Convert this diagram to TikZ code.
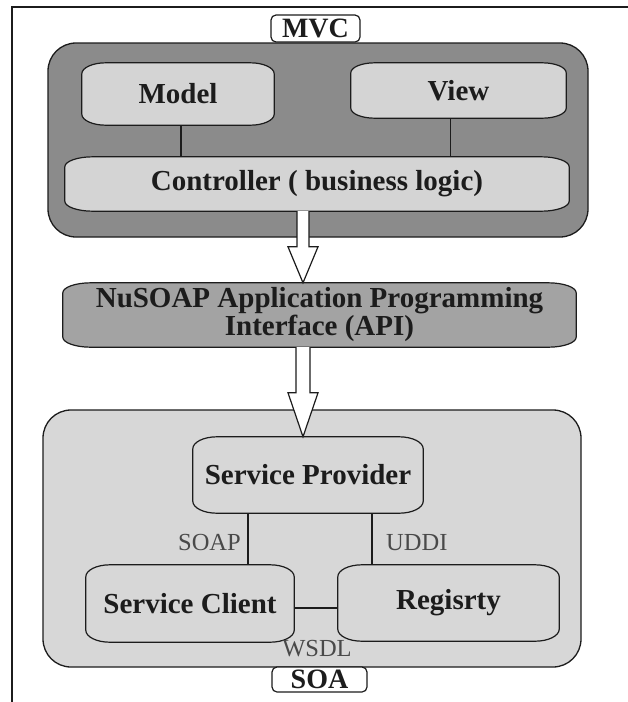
\documentclass[tikz,border=0pt]{standalone}
\usepackage{fontspec}
\setmainfont{Liberation Serif}
\usetikzlibrary{calc}
\definecolor{mvcgray}{HTML}{8B8B8B}
\definecolor{partgray}{HTML}{D4D4D4}
\definecolor{apigray}{HTML}{A3A3A3}
\definecolor{soagray}{HTML}{D7D7D7}
\definecolor{ink}{HTML}{1C1C1C}
\pgfdeclarelayer{back}
\pgfdeclarelayer{mid}
\pgfsetlayers{back,mid,main}
% outline with flattened elliptic corners around a named node:
% #1 node, #2 corner half-width, #3 corner half-height, #4 fill colour
\newcommand\softoutline[4]{%
  \begin{pgfonlayer}{mid}
  \path[draw=ink, line width=1.2pt, fill=#4]
    ($(#1.north west)+(#2,0)$) -- ($(#1.north east)+(-#2,0)$)
    .. controls +(0.55*#2,0) and +(0,-0.55*#3) .. ($(#1.north east)+(0,#3)$)
    -- ($(#1.south east)+(0,-#3)$)
    .. controls +(0,0.55*#3) and +(0.55*#2,0) .. ($(#1.south east)+(-#2,0)$)
    -- ($(#1.south west)+(#2,0)$)
    .. controls +(-0.55*#2,0) and +(0,0.55*#3) .. ($(#1.south west)+(0,-#3)$)
    -- ($(#1.north west)+(0,#3)$)
    .. controls +(0,-0.55*#3) and +(-0.55*#2,0) .. ($(#1.north west)+(#2,0)$)
    -- cycle;
  \end{pgfonlayer}}
\begin{document}
\begin{tikzpicture}[x=1pt,y=-1pt,
  frame/.style={draw=ink, line width=1.4pt},
  group/.style={draw=ink, line width=1.3pt, rounded corners=28pt, inner sep=0pt},
  part/.style={inner sep=0pt, align=center, text=ink,
    font=\bfseries\fontsize{29}{28}\selectfont},
  tagbox/.style={draw=ink, line width=1.2pt, fill=white, rounded corners=5pt,
    inner sep=0pt, text=ink, font=\bfseries\fontsize{28}{28}\selectfont},
  wire/.style={draw=ink, line width=1.2pt},
  hollow/.style={draw=ink, line width=1.2pt, fill=white, line join=miter},
  lbl/.style={inner sep=0pt, text=ink!80, font=\fontsize{24.5}{25}\selectfont}]
\useasboundingbox (0,0) rectangle (628,702);

% outer frame (top and left edges)
\coordinate (ftr) at (628,7);
\coordinate (ftl) at (12,7);
\coordinate (fbl) at (12,702);
\draw[frame] (ftr) -- (ftl) -- (fbl);

% groups
\begin{pgfonlayer}{back}
\node[group, fill=mvcgray, minimum width=540pt, minimum height=194pt] (mvc) at (318,140) {};
\node[group, fill=soagray, minimum width=538pt, minimum height=257pt] (soa) at (312,538.5) {};
\end{pgfonlayer}

% MVC layer
\node[tagbox, minimum width=89pt, minimum height=27pt] (mvctag) at (315.5,28.5) {MVC};
\node[part, minimum width=192pt, minimum height=62pt] (model) at (178,94) {Model};
\node[part, minimum width=215pt, minimum height=55pt] (view) at (458.5,90.5) {View};
\node[part, minimum width=504pt, minimum height=54pt] (ctrl) at (317,184) {Controller ( business logic)};
\softoutline{model}{24}{11}{partgray}
\softoutline{view}{24}{10}{partgray}
\softoutline{ctrl}{28}{10}{partgray}
\draw[wire] ([xshift=3pt]model.south) -- ([xshift=3pt]model.south |- ctrl.north);
\draw[wire] ([xshift=-8pt]view.south) -- ([xshift=-8pt]view.south |- ctrl.north);

% API layer
\node[part, minimum width=513pt, minimum height=64pt] (api) at (319.5,315)
  {NuSOAP Application Programming\\Interface (API)};
\softoutline{api}{28}{10}{apigray}

% SOA layer
\node[part, minimum width=230pt, minimum height=76pt] (sp) at (308,475) {Service Provider};
\node[part, minimum width=208pt, minimum height=77pt] (sc) at (190,603.5) {Service Client};
\node[part, minimum width=221pt, minimum height=76pt] (reg) at (448.5,603) {Regisrty};
\softoutline{sp}{24}{12}{soagray}
\softoutline{sc}{24}{12}{soagray}
\softoutline{reg}{24}{12}{soagray}
\node[tagbox, minimum width=95pt, minimum height=25pt] (soatag) at (319.5,679.5) {SOA};

% connector positions
\coordinate (axis) at (303,0);
\coordinate (soapx) at (248,0);
\coordinate (uddix) at (372,0);

% hollow arrows between the layers
\draw[hollow] ($(axis |- ctrl.south)+(-6,0)$) -- ($(axis |- api.north)+(-6,-36)$)
  -- ($(axis |- api.north)+(-15,-36)$) -- (axis |- api.north)
  -- ($(axis |- api.north)+(15,-36)$) -- ($(axis |- api.north)+(6,-36)$)
  -- ($(axis |- ctrl.south)+(6,0)$);
\draw[hollow] ($(axis |- api.south)+(-7,0)$) -- ($(axis |- sp.north)+(-7,-44)$)
  -- ($(axis |- sp.north)+(-15,-44)$) -- (axis |- sp.north)
  -- ($(axis |- sp.north)+(15,-44)$) -- ($(axis |- sp.north)+(7,-44)$)
  -- ($(axis |- api.south)+(7,0)$);

% SOA links
\draw[wire] (soapx |- sp.south) -- (soapx |- sc.north);
\draw[wire] (uddix |- sp.south) -- (uddix |- reg.north);
\draw[wire] ([yshift=-4.5pt]sc.east) -- ([yshift=-4.5pt]sc.east -| reg.west);
\node[lbl, anchor=east] (soap) at (241,543) {SOAP};
\node[lbl, anchor=west] (uddi) at (386,543) {UDDI};
\node[lbl] (wsdl) at (317,649) {WSDL};
\end{tikzpicture}
\end{document}
